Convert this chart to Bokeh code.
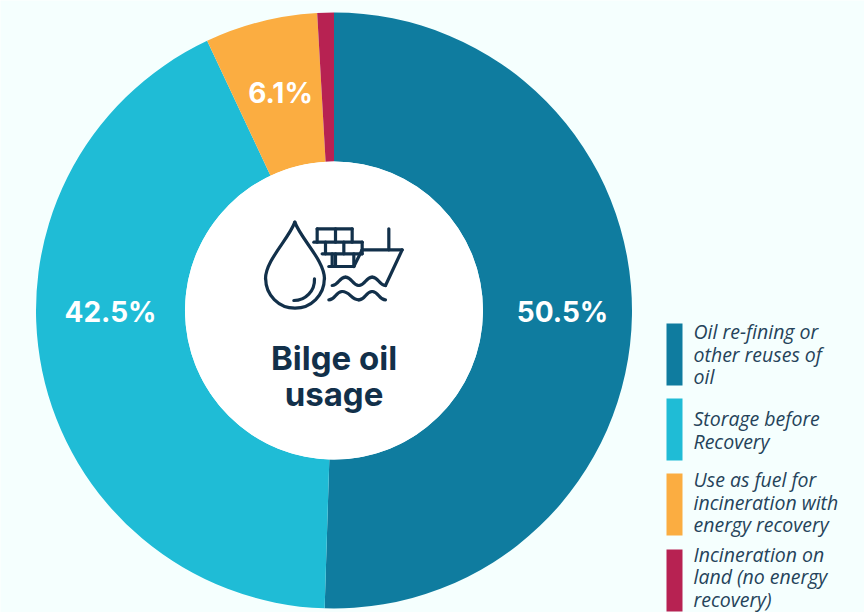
import numpy as np
from bokeh.plotting import figure
from bokeh.models import Range1d
from bokeh.core.properties import value
from bokeh.embed import file_html
from bokeh.resources import INLINE

categories = ["Oil re-fining or other reuses of oil", "Storage before Recovery",
              "Use as fuel for incineration with energy recovery",
              "Incineration on land (no energy recovery)"]
shares = [50.5, 42.5, 6.1, 0.9]
share_labels = ["50.5%", "42.5%", "6.1%"]
colors = ["#0f7c9f", "#1fbcd6", "#fbad41", "#b72252"]
legend_lines = [["Oil re-fining or", "other reuses of", "oil"],
                ["Storage before", "Recovery"],
                ["Use as fuel for", "incineration with", "energy recovery"],
                ["Incineration on", "land (no energy", "recovery)"]]
BG = "#f5fffe"; INK = "#12304a"; FONT = "Inter"; LFONT = "Open Sans"
W, H = 864, 612

def X(s): return s
def Y(s): return 612 - s

p = figure(width=W, height=H, x_range=Range1d(0, W), y_range=Range1d(0, H),
           toolbar_location=None, output_backend="svg", min_border=0,
           background_fill_color=BG, border_fill_color=BG, outline_line_color=None)
p.axis.visible = False
p.grid.visible = False

cx, cy, R, r = X(333.5), Y(310), 298, 149
cum = np.cumsum([0] + shares) / sum(shares)
p.annular_wedge(x=cx, y=cy, inner_radius=r, outer_radius=R,
                start_angle=list(np.pi/2 - 2*np.pi*cum[:-1]),
                end_angle=list(np.pi/2 - 2*np.pi*cum[1:]),
                direction="clock", fill_color=colors, line_color=None)
p.circle(x=[cx], y=[cy], radius=r, fill_color="white", line_color=None)

lab_x = [562, 110, 280]; lab_y = [311, 311, 92]
p.text(x=[X(v) for v in lab_x], y=[Y(v) for v in lab_y], text=share_labels, text_color="white",
       text_font=value(FONT), text_font_style="bold", text_font_size="28px",
       text_align="center", text_baseline="middle")
p.text(x=[cx, cx], y=[Y(357), Y(393)], text=["Bilge oil", "usage"], text_color=INK,
       text_font=value(FONT), text_font_style="bold", text_font_size="33px",
       text_align="center", text_baseline="middle")

# icon, traced in crop coordinates
def ix(z): return X(250 + np.asarray(z, float)/3)
def iy(z): return Y(210 + np.asarray(z, float)/3)
segs = [[(200,55),(305,55)],[(200,55),(200,95)],[(305,55),(305,95)],[(255,55),(255,95)],
        [(190,95),(335,95)],[(225,95),(225,130)],[(335,95),(335,130)],[(280,95),(280,130)],
        [(215,130),(335,130)],[(245,130),(245,168)],[(310,130),(310,168)],[(255,130),(255,168)],
        [(235,168),(310,168)],[(310,168),(335,118)],[(415,55),(415,118)],[(335,118),(455,118)],
        [(455,118),(405,225)]]
kw = dict(line_color=INK, line_width=3.2, line_cap="round")
p.multi_line(xs=[list(ix([a[0] for a in s])) for s in segs],
             ys=[list(iy([a[1] for a in s])) for s in segs], **kw)
# drop
p.bezier(x0=[ix(133)]*2, y0=[iy(35)]*2, x1=[ix(45), ix(222)], y1=[iy(205)]*2,
         cx0=[ix(115), ix(151)], cy0=[iy(85)]*2, cx1=[ix(45), ix(222)], cy1=[iy(150)]*2, **kw)
p.arc(x=[ix(133.5)], y=[iy(205)], radius=88/3, start_angle=np.pi, end_angle=2*np.pi,
      direction="anticlock", **kw)
p.arc(x=[ix(130)], y=[iy(208)], radius=62/3, start_angle=-np.pi/2, end_angle=0.05,
      direction="anticlock", **kw)
# waves
for x0, x1, x2, x3, x4, yb in [(245,285,325,365,405,225),(235,275,325,365,405,268)]:
    yt = yb - 25
    for a, b, ya, yb2 in [(x0,x1,yb,yt),(x1,x2,yt,yb),(x2,x3,yb,yt),(x3,x4,yt,yb)]:
        m = (a+b)/2
        p.bezier(x0=[ix(a)], y0=[iy(ya)], x1=[ix(b)], y1=[iy(yb2)],
                 cx0=[ix(m)], cy0=[iy(ya)], cx1=[ix(m)], cy1=[iy(yb2)], **kw)

# legend
tops = [323, 398, 473, 549]
for top, col in zip(tops, colors):
    p.quad(left=X(666), right=X(682), top=Y(top), bottom=Y(top+62), fill_color=col, line_color=None)
first = [331, 418, 479, 553.5]
for y0, lines in zip(first, legend_lines):
    p.text(x=[X(693)]*len(lines), y=[Y(y0 + 22.6*i) for i in range(len(lines))], text=lines,
           text_color="#25435a", text_font=value(LFONT), text_font_style="italic",
           text_font_size="19.5px", text_align="left", text_baseline="middle")

open("out.html", "w").write(file_html(p, INLINE))
